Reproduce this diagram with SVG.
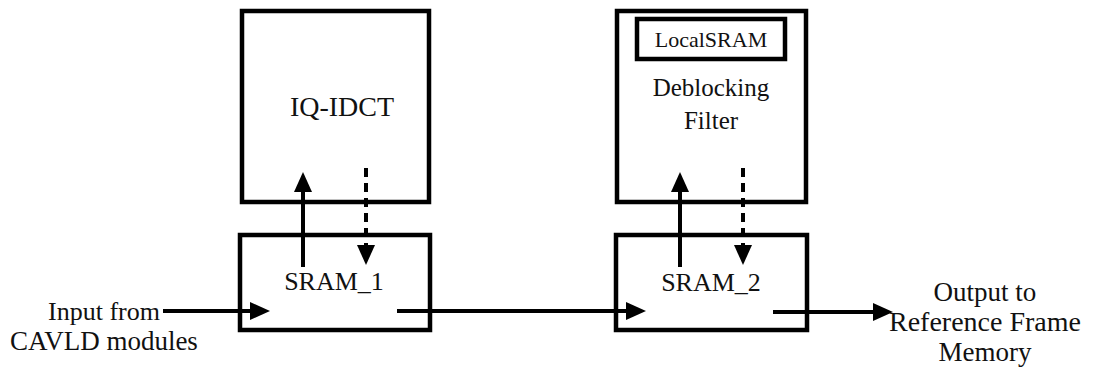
<svg xmlns="http://www.w3.org/2000/svg" width="1095" height="370" viewBox="0 0 1095 370">
  <style>
    .box { fill: none; stroke: #000; stroke-width: 4.5; }
    .lbl { font-family: "Liberation Serif", "Times New Roman", serif; fill: #111; text-anchor: middle; }
    .flow { stroke: #000; stroke-width: 4; fill: none; }
    .dash { stroke: #000; stroke-width: 4; fill: none; stroke-dasharray: 9 6; }
  </style>
  <defs>
    <marker id="head" markerUnits="userSpaceOnUse" markerWidth="22" markerHeight="20" refX="2" refY="9" orient="auto">
      <path d="M0,0 L20,9 L0,18 z" fill="#000"/>
    </marker>
  </defs>
  <rect width="1095" height="370" fill="#fff"/>

  <g id="iq-idct">
    <rect class="box" x="242" y="11" width="187" height="191"/>
    <text class="lbl" x="342" y="116" font-size="28">IQ-IDCT</text>
  </g>

  <g id="deblocking-filter">
    <rect class="box" x="617" y="11" width="189" height="191"/>
    <rect class="box" x="637" y="19" width="148" height="40" stroke-width="5"/>
    <text class="lbl" x="711" y="47" font-size="22">LocalSRAM</text>
    <text class="lbl" x="711" y="96" font-size="25">Deblocking</text>
    <text class="lbl" x="711" y="129" font-size="25">Filter</text>
  </g>

  <g id="sram-1">
    <rect class="box" x="240" y="235" width="190" height="95"/>
    <text class="lbl" x="334" y="290" font-size="26">SRAM_1</text>
  </g>

  <g id="sram-2">
    <rect class="box" x="616" y="235" width="191" height="95"/>
    <text class="lbl" x="711" y="291" font-size="26">SRAM_2</text>
  </g>

  <g id="input-label">
    <text class="lbl" x="104" y="320" font-size="26">Input from</text>
    <text class="lbl" x="104" y="350" font-size="27">CAVLD modules</text>
  </g>

  <g id="output-label">
    <text class="lbl" x="985" y="301" font-size="27">Output to</text>
    <text class="lbl" x="985" y="331" font-size="28">Reference Frame</text>
    <text class="lbl" x="985" y="361" font-size="27">Memory</text>
  </g>

  <g id="connectors">
    <!-- external input into SRAM_1 -->
    <line class="flow" x1="163" y1="311" x2="252" y2="311" marker-end="url(#head)"/>
    <!-- SRAM_1 to SRAM_2 -->
    <line class="flow" x1="397" y1="311" x2="628" y2="311" marker-end="url(#head)"/>
    <!-- SRAM_2 to reference frame memory -->
    <line class="flow" x1="773" y1="312" x2="875" y2="312" marker-end="url(#head)"/>
    <!-- SRAM_1 read by IQ-IDCT -->
    <line class="flow" x1="303" y1="267" x2="303" y2="190" marker-end="url(#head)"/>
    <!-- IQ-IDCT write-back to SRAM_1 -->
    <line class="dash" x1="366" y1="168" x2="366" y2="247" marker-end="url(#head)"/>
    <!-- SRAM_2 read by deblocking filter -->
    <line class="flow" x1="680" y1="267" x2="680" y2="190" marker-end="url(#head)"/>
    <!-- deblocking filter write-back to SRAM_2 -->
    <line class="dash" x1="743" y1="168" x2="743" y2="247" marker-end="url(#head)"/>
  </g>
</svg>
